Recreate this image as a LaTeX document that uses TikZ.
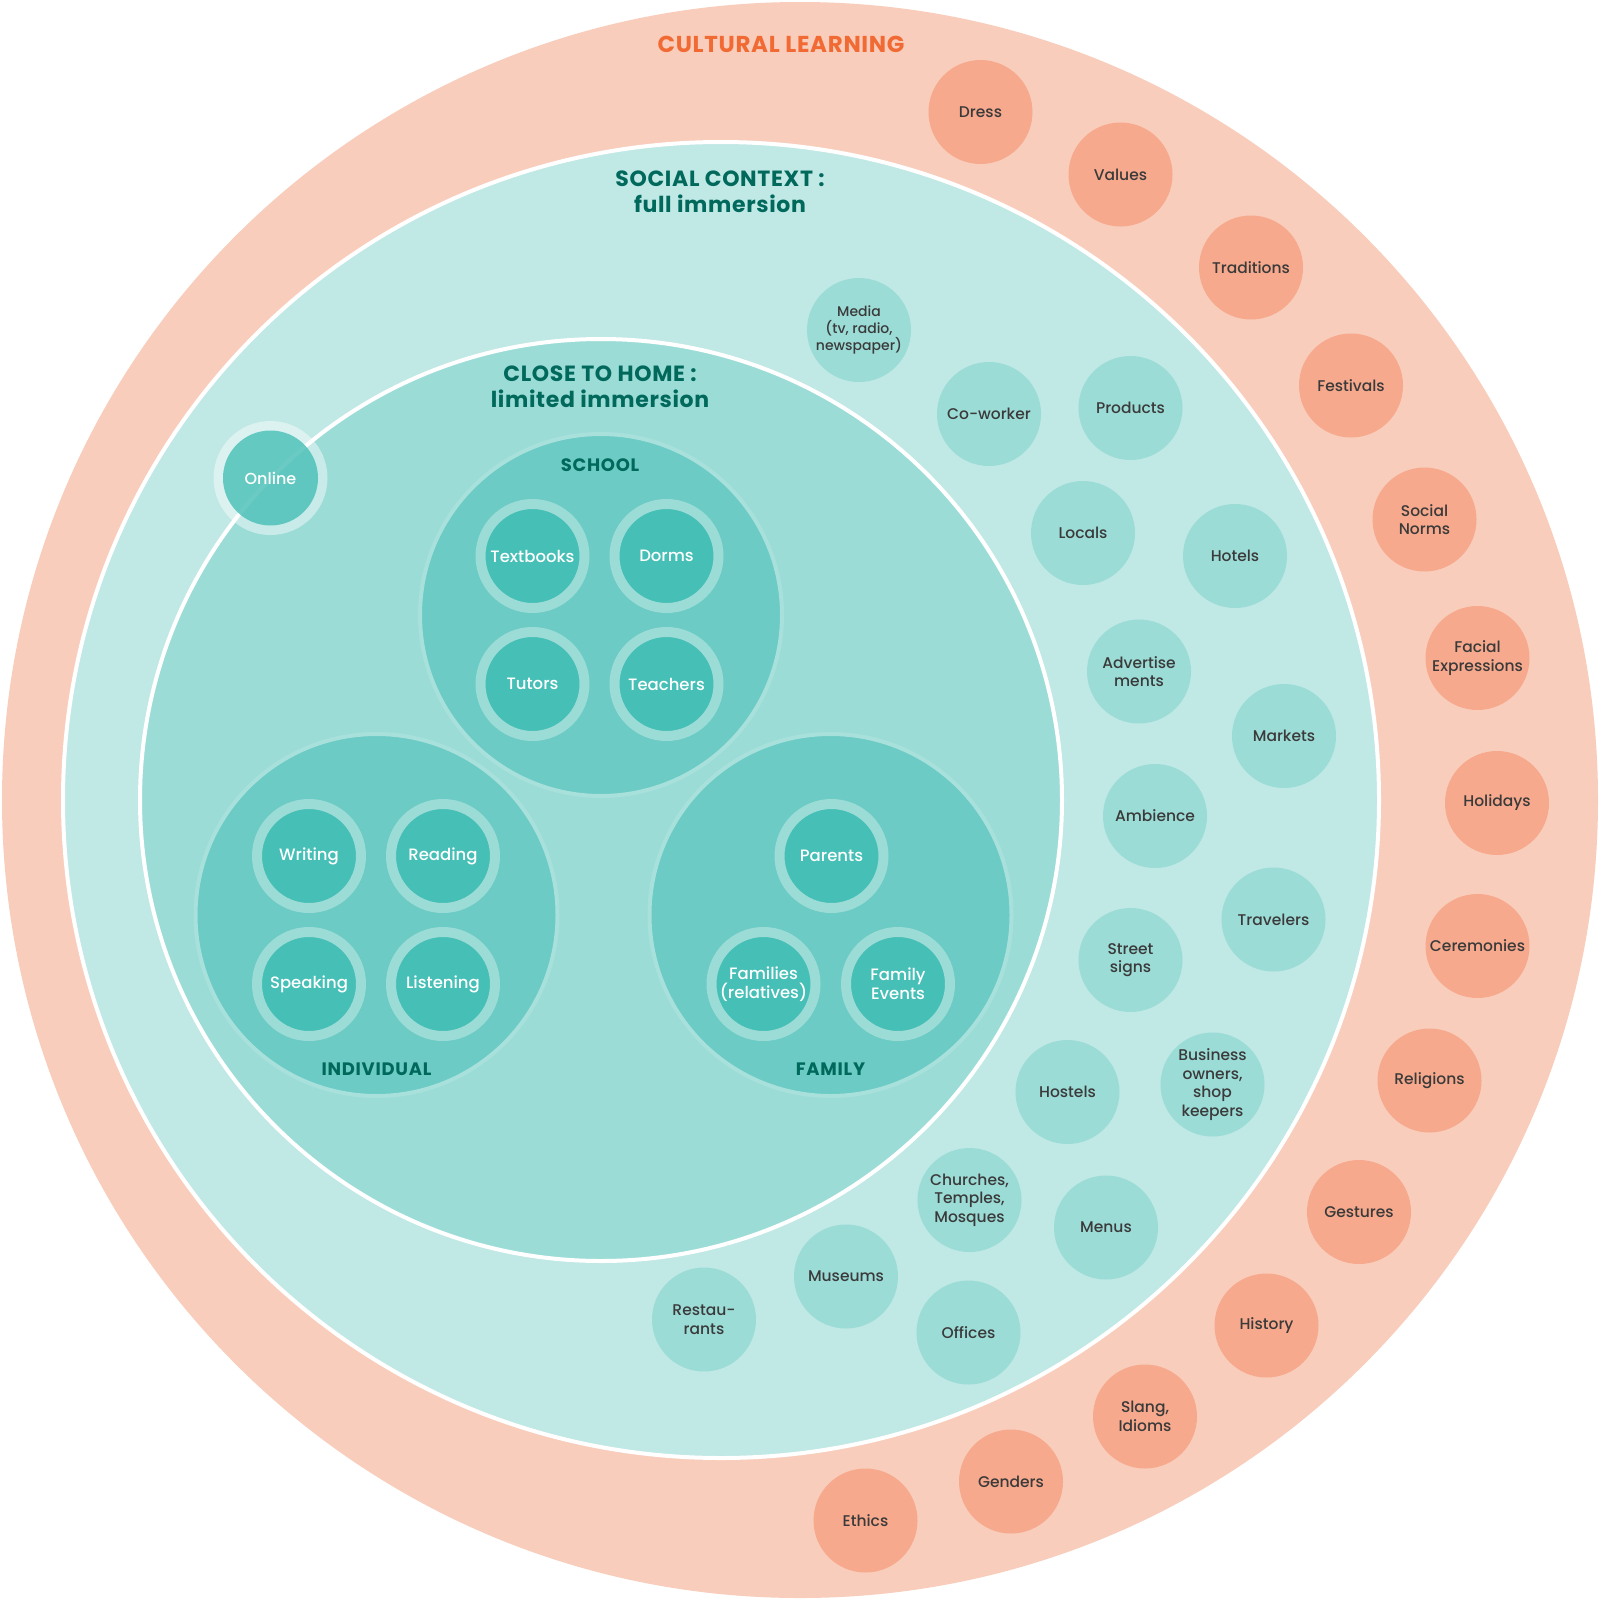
\documentclass[tikz,border=0pt]{standalone}
\usepackage{fontspec}
\setmainfont{Poppins}[UprightFont=* Medium, BoldFont=* Bold]
\usepackage{tikz}
\usetikzlibrary{positioning}

\definecolor{salmonbg}{HTML}{F9CDBC}
\definecolor{salmondot}{HTML}{F6A98C}
\definecolor{orangetitle}{HTML}{F26A33}
\definecolor{socialbg}{HTML}{C0E8E5}
\definecolor{homebg}{HTML}{9CDCD7}
\definecolor{groupbg}{HTML}{6CCBC4}
\definecolor{leafbg}{HTML}{46BFB6}
\definecolor{leafring}{HTML}{9CDCD7}
\definecolor{groupring}{HTML}{A8E0DC}
\definecolor{tealtitle}{HTML}{00695C}
\definecolor{graytext}{HTML}{3A3A3A}

\begin{document}
\begin{tikzpicture}[x=1pt, y=-1pt,
    % Zone Styles
    zone/.style={circle, inner sep=0pt},
    title/.style={align=center, font=\fontsize{22}{26}\selectfont\bfseries\addfontfeature{LetterSpace=3}, text=tealtitle},
    grouptitle/.style={font=\fontsize{18}{20}\selectfont\bfseries\addfontfeature{LetterSpace=4}, text=tealtitle},
    % Bubble Styles
    cultbubble/.style={circle, fill=salmondot, minimum size=104pt, inner sep=0pt, align=center, text=graytext, font=\fontsize{15.5}{18.5}\selectfont},
    socbubble/.style={circle, fill=homebg, minimum size=104pt, inner sep=0pt, align=center, text=graytext, font=\fontsize{15.5}{18.5}\selectfont},
    group/.style={circle, fill=groupbg, draw=groupring, line width=4pt, minimum size=362pt, inner sep=0pt},
    leaf/.style={circle, fill=leafbg, draw=leafring, line width=10pt, minimum size=104pt, inner sep=0pt, align=center, text=white, font=\fontsize{16.5}{19}\selectfont}
]
    \useasboundingbox (0,0) rectangle (1600,1600);

    % Zones
    \node[zone, fill=salmonbg, minimum size=1596pt] (cultural) at (800,800) {};
    \node[zone, fill=socialbg, draw=white, line width=4pt, minimum size=1316pt] (social) at (721,800) {};
    \node[zone, fill=homebg, draw=white, line width=4pt, minimum size=922pt] (home) at (601,800) {};

    % Titles
    \node[font=\fontsize{23}{26}\selectfont\bfseries\addfontfeature{LetterSpace=3}, text=orangetitle] (cultitle) at (781,44) {CULTURAL LEARNING};
    \node[title] (soctitle) at (720,192) {SOCIAL CONTEXT :\\full immersion};
    \node[title] (hometitle) at (600,387) {CLOSE TO HOME :\\limited immersion};

    % Online
    \node[zone, fill=white, fill opacity=0.45, minimum size=114pt] (onlinering) at (270.5,478) {};
    \node[zone, fill=leafbg, fill opacity=0.8, text opacity=1, text=white, minimum size=95pt, font=\fontsize{16}{19}\selectfont] (online) at (270.5,478) {Online};

    % Groups
    \node[group] (school) at (601,615) {};
    \node[group] (individual) at (376.5,915) {};
    \node[group] (family) at (830.5,915) {};
    \node[grouptitle] at (600,465) {SCHOOL};
    \node[grouptitle] at (376.5,1069) {INDIVIDUAL};
    \node[grouptitle] at (830.5,1069) {FAMILY};

    \node[leaf] (textbooks) at (532.5,556) {Textbooks};
    \node[leaf] (dorms) at (666.5,556) {Dorms};
    \node[leaf] (tutors) at (532.5,684) {Tutors};
    \node[leaf] (teachers) at (666.5,684) {Teachers};

    \node[leaf] (writing) at (309,856) {Writing};
    \node[leaf] (reading) at (443,856) {Reading};
    \node[leaf] (speaking) at (309,984) {Speaking};
    \node[leaf] (listening) at (443,984) {Listening};

    \node[leaf] (parents) at (831.5,856) {Parents};
    \node[leaf] (relatives) at (763.5,984) {Families\\(relatives)};
    \node[leaf] (events) at (898,984) {Family\\Events};

    % Social context bubbles
    \node[socbubble, font=\fontsize{14}{17}\selectfont] (media) at (859,330) {Media\\(tv, radio,\\newspaper)};
    \node[socbubble] (coworker) at (989,414) {Co-worker};
    \node[socbubble] (products) at (1130.5,408) {Products};
    \node[socbubble] (locals) at (1083,533) {Locals};
    \node[socbubble] (hotels) at (1235,556) {Hotels};
    \node[socbubble] (adverts) at (1139,671.5) {Advertise\\ments};
    \node[socbubble] (markets) at (1284,736) {Markets};
    \node[socbubble] (ambience) at (1155,816) {Ambience};
    \node[socbubble] (travelers) at (1273.5,919.5) {Travelers};
    \node[socbubble] (streetsigns) at (1130.5,960) {Street\\signs};
    \node[socbubble] (hostels) at (1067.5,1092) {Hostels};
    \node[socbubble] (business) at (1212.5,1084.5) {Business\\owners,\\shop\\keepers};
    \node[socbubble] (churches) at (969.5,1200) {Churches,\\Temples,\\Mosques};
    \node[socbubble] (menus) at (1106,1227.5) {Menus};
    \node[socbubble] (museums) at (846,1276.5) {Museums};
    \node[socbubble] (offices) at (968.5,1332.5) {Offices};
    \node[socbubble] (restaurants) at (704,1319.5) {Restau-\\rants};

    % Cultural learning bubbles
    \node[cultbubble] (dress) at (980.5,112) {Dress};
    \node[cultbubble] (values) at (1120.5,174.5) {Values};
    \node[cultbubble] (traditions) at (1251,267.5) {Traditions};
    \node[cultbubble] (festivals) at (1351,385.5) {Festivals};
    \node[cultbubble] (norms) at (1424.5,519.5) {Social\\Norms};
    \node[cultbubble] (facial) at (1477.5,658) {Facial\\Expressions};
    \node[cultbubble] (holidays) at (1497,803) {Holidays};
    \node[cultbubble] (ceremonies) at (1477.5,946) {Ceremonies};
    \node[cultbubble] (religions) at (1429.5,1080.5) {Religions};
    \node[cultbubble] (gestures) at (1359,1212) {Gestures};
    \node[cultbubble] (history) at (1266.5,1325.5) {History};
    \node[cultbubble] (slang) at (1145,1416.5) {Slang,\\Idioms};
    \node[cultbubble] (genders) at (1011,1481.5) {Genders};
    \node[cultbubble] (ethics) at (865.5,1520.5) {Ethics};

\end{tikzpicture}
\end{document}
